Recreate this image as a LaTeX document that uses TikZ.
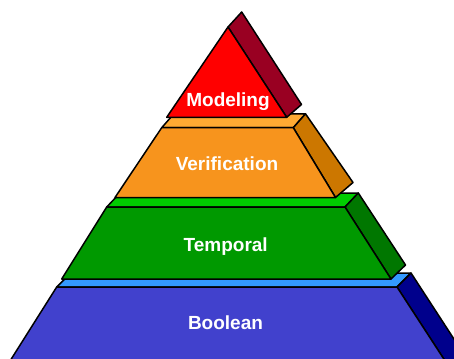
\documentclass[tikz,border=0pt]{standalone}
\usepackage{fontspec}
\setmainfont{Liberation Sans}
\usetikzlibrary{calc}
\definecolor{modfront}{HTML}{FF0000}
\definecolor{modside}{HTML}{990022}
\definecolor{verfront}{HTML}{F7941D}
\definecolor{vertop}{HTML}{FFAA33}
\definecolor{verside}{HTML}{CC7700}
\definecolor{temfront}{HTML}{009900}
\definecolor{temtop}{HTML}{00CC00}
\definecolor{temside}{HTML}{007700}
\definecolor{boofront}{HTML}{4141CD}
\definecolor{bootop}{HTML}{3399FF}
\definecolor{booside}{HTML}{00008C}
\tikzset{
  face/.style={draw=black, line width=1.5pt, line join=round},
  lbl/.style={text=white, font=\fontsize{19}{19}\selectfont\bfseries, anchor=base, inner sep=0pt}
}
\begin{document}
\begin{tikzpicture}[x=1pt,y=-1pt]
\useasboundingbox (0,0) rectangle (454,358);
\clip (0,0) rectangle (454,358);
\fill[white] (0,0) rectangle (454,358);
% Boolean
\coordinate (bTL) at (56.7,287);
\coordinate (bTR) at (397,287);
\coordinate (bBL) at (-2,380);
\coordinate (bBR) at (457.5,380);
\coordinate (bTRk) at (411,273);
\coordinate (bTLk) at (70.7,273);
\coordinate (bBRk) at (471.5,366);
\filldraw[face, fill=bootop] (bTL) -- (bTR) -- (bTRk) -- (bTLk) -- cycle;
\filldraw[face, fill=booside] (bTR) -- (bTRk) -- (bBRk) -- (bBR) -- cycle;
\filldraw[face, fill=boofront] (bTL) -- (bTR) -- (bBR) -- (bBL) -- cycle;
\node[lbl] (boolean) at (225.5,329) {Boolean};
% Temporal
\coordinate (tTL) at (106.7,207);
\coordinate (tTR) at (345,207);
\coordinate (tBL) at (61.7,279);
\coordinate (tBR) at (391,279);
\coordinate (tTRk) at (358.3,193);
\coordinate (tTLk) at (120,193);
\coordinate (tBRk) at (405.5,265);
\filldraw[face, fill=temtop] (tTL) -- (tTR) -- (tTRk) -- (tTLk) -- cycle;
\filldraw[face, fill=temside] (tTR) -- (tTRk) -- (tBRk) -- (tBR) -- cycle;
\filldraw[face, fill=temfront] (tTL) -- (tTR) -- (tBR) -- (tBL) -- cycle;
\node[lbl] (temporal) at (225.7,251) {Temporal};
% Verification
\coordinate (vTL) at (161.7,127.7);
\coordinate (vTR) at (293.3,127.7);
\coordinate (vBL) at (115,197.5);
\coordinate (vBR) at (335.5,197.5);
\coordinate (vTRk) at (305.5,113.8);
\coordinate (vTLk) at (173.9,113.8);
\coordinate (vBRk) at (353,182.5);
\filldraw[face, fill=vertop] (vTL) -- (vTR) -- (vTRk) -- (vTLk) -- cycle;
\filldraw[face, fill=verside] (vTR) -- (vTRk) -- (vBRk) -- (vBR) -- cycle;
\filldraw[face, fill=verfront] (vTL) -- (vTR) -- (vBR) -- (vBL) -- cycle;
\node[lbl] (verification) at (227,170) {Verification};
% Modeling
\coordinate (mA) at (228,27);
\coordinate (mBL) at (166.7,117.3);
\coordinate (mBR) at (286.7,117.3);
\coordinate (mAk) at (241.7,12);
\coordinate (mBRk) at (301.5,104.5);
\filldraw[face, fill=modside] (mA) -- (mAk) -- (mBRk) -- (mBR) -- cycle;
\filldraw[face, fill=modfront] (mA) -- (mBR) -- (mBL) -- cycle;
\node[lbl] (modeling) at (228,106.7) {Modeling};
\end{tikzpicture}
\end{document}
